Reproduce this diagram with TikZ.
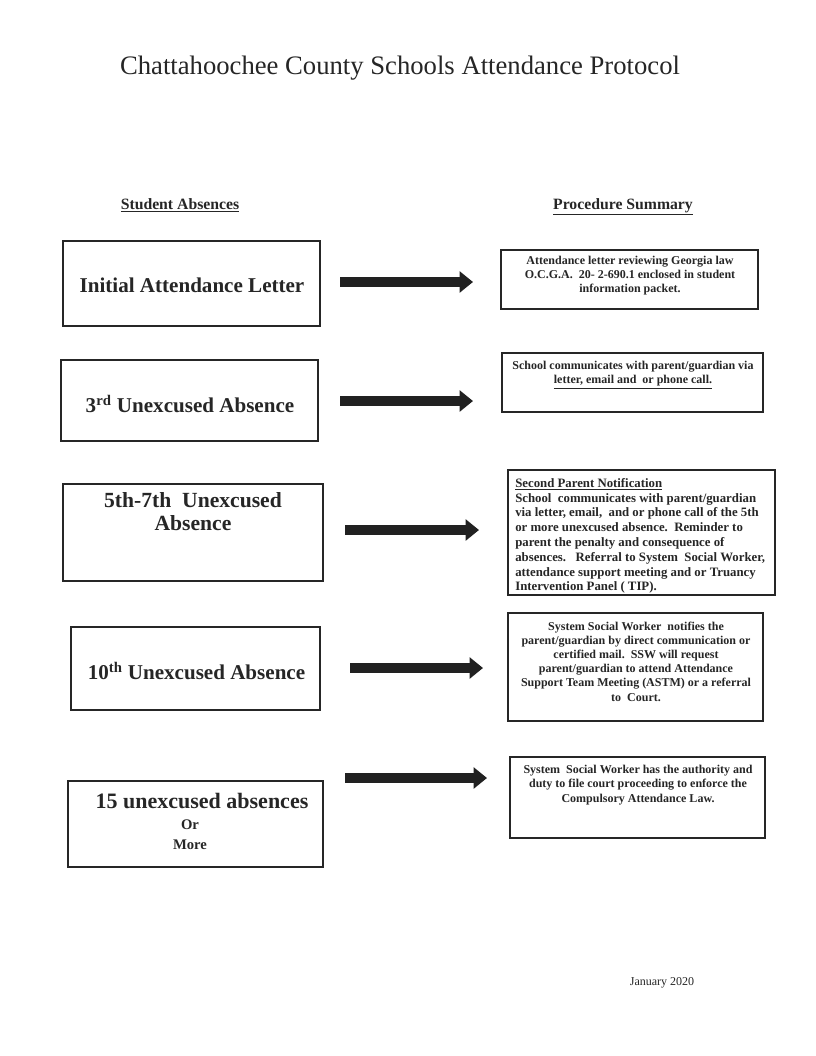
\documentclass[tikz,border=0pt]{standalone}
\usepackage{fontspec}
\setmainfont{Liberation Serif}
\usetikzlibrary{arrows.meta,fit}
\begin{document}
\begin{tikzpicture}[x=0.75pt,y=-0.75pt,
  lbox/.style={draw=black!85, line width=1.1pt, inner sep=0pt},
  rbox/.style={draw=black!85, line width=1.1pt, inner sep=0pt},
  ltext/.style={font=\fontsize{15.8}{17.25}\selectfont\bfseries, text=black!85, inner sep=0pt, align=center},
  rtext/.style={font=\fontsize{9}{10.6}\selectfont\bfseries, text=black!85, inner sep=0pt, align=center},
  bigarrow/.style={draw=black!87, line width=7.5pt, -{Triangle[length=10pt,width=15.5pt]}},
  head/.style={font=\fontsize{11.8}{13}\selectfont\bfseries, text=black!85, inner sep=0pt, anchor=base}
]
\useasboundingbox[fill=white] (0,0) rectangle (816,1056);

% title and headings
\node[font=\fontsize{20}{24}\selectfont, text=black!85, inner sep=0pt] (title) at (400,68) {Chattahoochee County Schools Attendance Protocol};
\node[head] (hleft) at (180,209) {\underline{Student Absences}};
\node[head] (hright) at (623,209) {\underline{Procedure Summary}};

% left boxes
\node[lbox, fit={(63,241) (320,326)}] (L1) {};
\node[lbox, fit={(61,360) (318,441)}] (L2) {};
\node[lbox, fit={(63,484) (323,581)}] (L3) {};
\node[lbox, fit={(71,627) (320,710)}] (L4) {};
\node[lbox, fit={(68,781) (323,867)}] (L5) {};

\node[ltext] (t1) at (192,285) {Initial Attendance Letter};
\node[ltext] (t2) at (190,404) {3\textsuperscript{rd} Unexcused Absence};
\node[ltext, font=\fontsize{16.2}{17.25}\selectfont\bfseries] (t3) at (193,511.5) {5th-7th\ \ Unexcused\\Absence};
\node[ltext] (t4) at (196.5,671) {10\textsuperscript{th} Unexcused Absence};
\node[ltext, font=\fontsize{16.5}{18}\selectfont\bfseries] (t5) at (202,801) {15 unexcused absences};
\node[ltext, font=\fontsize{11}{15}\selectfont\bfseries] (t5b) at (190,835) {Or\\More};

% right boxes
\node[rbox, fit={(501,250) (758,309)}] (R1) {};
\node[rbox, fit={(502,353) (763,412)}] (R2) {};
\node[rbox, fit={(508,470) (775,595)}] (R3) {};
\node[rbox, fit={(508,613) (763,721)}] (R4) {};
\node[rbox, fit={(510,757) (765,838)}] (R5) {};

\node[rtext] (s1) at (630,275.5) {Attendance letter reviewing Georgia law\\O.C.G.A.\ \ 20- 2-690.1 enclosed in student\\information packet.};
\node[rtext] (s2) at (633,375) {School communicates with parent/guardian via\\\underline{letter, email and\ \ or phone call.}};
\node[rtext, align=left, anchor=west, font=\fontsize{9.6}{11.1}\selectfont\bfseries] (s3) at (515,536) {\underline{Second Parent Notification}\\School\ \ communicates with parent/guardian\\via letter, email,\ \ and or phone call of the 5th\\or more unexcused absence.\ \ Reminder to\\parent the penalty and consequence of\\absences.\ \ \ Referral to System\ \ Social Worker,\\attendance support meeting and or Truancy\\Intervention Panel ( TIP).};
\node[rtext, font=\fontsize{9}{10.65}\selectfont\bfseries] (s4) at (636,661.5) {System Social Worker\ \ notifies the\\parent/guardian by direct communication or\\certified mail.\ \ SSW will request\\parent/guardian to attend Attendance\\Support Team Meeting (ASTM) or a referral\\to\ \ Court.};
\node[rtext, font=\fontsize{9}{10.9}\selectfont\bfseries] (s5) at (638,785) {System\ \ Social Worker has the authority and\\duty to file court proceeding to enforce the\\Compulsory Attendance Law.};

% arrows
\coordinate (a1s) at (340,282); \coordinate (a1e) at (473,282);
\coordinate (a2s) at (340,401); \coordinate (a2e) at (473,401);
\coordinate (a3s) at (345,530); \coordinate (a3e) at (479,530);
\coordinate (a4s) at (350,668); \coordinate (a4e) at (483,668);
\coordinate (a5s) at (345,778); \coordinate (a5e) at (487,778);
\draw[bigarrow] (a1s) -- (a1e);
\draw[bigarrow] (a2s) -- (a2e);
\draw[bigarrow] (a3s) -- (a3e);
\draw[bigarrow] (a4s) -- (a4e);
\draw[bigarrow] (a5s) -- (a5e);

% date
\node[font=\fontsize{9}{11}\selectfont, text=black!85, inner sep=0pt] (date) at (662,983) {January 2020};
\end{tikzpicture}
\end{document}
